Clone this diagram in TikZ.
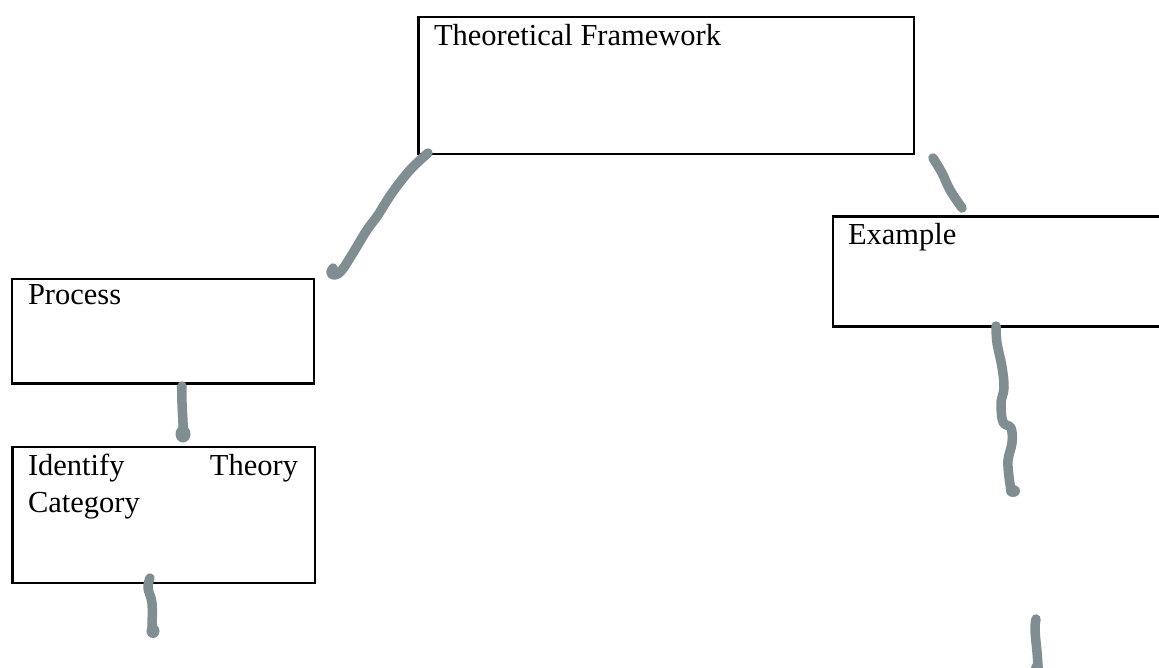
\documentclass[tikz,border=0pt]{standalone}
\usepackage{fontspec}
\setmainfont{Liberation Serif}
\definecolor{inkgray}{RGB}{128,141,145}
\begin{document}
\begin{tikzpicture}[x=1pt,y=-1pt,
  box/.style={draw=black, line width=2.7pt, anchor=north west, inner sep=0pt, outer sep=0pt},
  lbl/.style={inner sep=0pt, outer sep=0pt, font=\fontsize{30.5}{37}\selectfont},
  ink/.style={draw=inkgray, line width=9.5pt, line cap=round, line join=round},
  blob/.style={fill=inkgray}]
\useasboundingbox (0,0) rectangle (1159,668);
\clip (0,0) rectangle (1159,668);
% boxes
\node[box, minimum width=495.5pt, minimum height=137pt] (tf) at (418.5,17) {};
\node[box, minimum width=342pt, minimum height=110pt] (ex) at (833,216.5) {};
\node[box, minimum width=302pt, minimum height=104.5pt] (pr) at (12,279) {};
\node[box, minimum width=302.5pt, minimum height=136pt] (id) at (12.5,447) {};
% labels
\node[lbl, anchor=base west] (tft) at (434,46) {Theoretical Framework};
\node[lbl, anchor=base west] (ext) at (848,245) {Example};
\node[lbl, anchor=base west] (prt) at (28,305) {Process};
\node[lbl, anchor=base west] (idt1) at (28,475) {Identify};
\node[lbl, anchor=base east] (idt2) at (298,475) {Theory};
\node[lbl, anchor=base west] (idt3) at (28,512) {Category};
% hand-drawn strokes
\draw[ink] plot[smooth, tension=0.6] coordinates {(428,153) (410,170) (392,193) (378,215) (372,223) (365,233) (353,253) (342,270) (335,275) (331,273) (333,268)};
\draw[ink] plot[smooth, tension=0.6] coordinates {(933,158) (942,173) (950,190) (962,208)};
\draw[ink] plot[smooth, tension=0.6] coordinates {(996,326) (997,343) (1002,367) (1004,388) (1001,403) (1003,422) (1011,428) (1012,443) (1008,460) (1009,477) (1011,490)};
\fill[blob] (1013,491) ellipse (7pt and 6pt);
\draw[ink] plot[smooth, tension=0.6] coordinates {(182,386) (182,403) (183,423) (183,432)};
\fill[blob] (183,434) ellipse (7.5pt and 8.5pt);
\draw[ink] plot[smooth, tension=0.6] coordinates {(150,578) (148,588) (152,603) (152,627)};
\fill[blob] (153,631) ellipse (6.5pt and 7pt);
\draw[ink] plot[smooth, tension=0.6] coordinates {(1036,619) (1035,630) (1037,652) (1038,666)};
\fill[blob] (1037,667) ellipse (6pt and 5pt);
\end{tikzpicture}
\end{document}
